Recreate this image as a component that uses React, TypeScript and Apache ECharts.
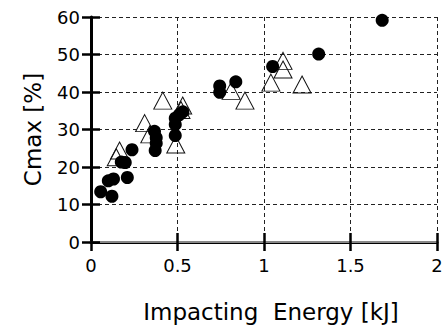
import React, { useEffect, useRef } from "react";
import * as echarts from "echarts";

const xTicks = [0, 0.5, 1, 1.5, 2];
const yTicks = [0, 10, 20, 30, 40, 50, 60];

const circleEnergy = [0.056, 0.121, 0.1, 0.13, 0.21, 0.175, 0.198, 0.237, 0.367, 0.377, 0.377, 0.371, 0.487, 0.487, 0.487, 0.51, 0.531, 0.744, 0.744, 0.837, 1.05, 1.316, 1.683];
const circleCmax = [13.4, 12.2, 16.3, 16.8, 17.2, 21.3, 21.2, 24.6, 29.5, 27.8, 26.3, 24.4, 33, 31.3, 28.4, 33.9, 34.7, 41.6, 39.9, 42.7, 46.8, 50.1, 59.1];

const triEnergy = [0.146, 0.165, 0.31, 0.34, 0.415, 0.49, 0.53, 0.52, 0.81, 0.89, 1.04, 1.11, 1.11, 1.22];
const triCmax = [22.6, 24.4, 31.7, 28.7, 37.7, 26, 36.4, 35.2, 40.3, 37.7, 42.5, 48.3, 46, 42];

const FONT = "DejaVu Sans";

export default function App() {
  const ref = useRef<HTMLDivElement>(null);
  useEffect(() => {
    document.body.style.margin = "0";
    if (!ref.current) return;
    const chart = echarts.init(ref.current, null, { renderer: "svg" });
    const xMin = xTicks[0], xMax = xTicks[xTicks.length - 1];
    const yMin = yTicks[0], yMax = yTicks[yTicks.length - 1];
    const xInt = xTicks[1] - xTicks[0];
    const yInt = yTicks[1] - yTicks[0];
    const dash = { type: [4, 3] as any, color: "#222", width: 1 };
    const tickStyle = { color: "#000", width: 2.5 };
    chart.setOption({
      animation: false,
      backgroundColor: "#fff",
      grid: { left: 91, right: 11, top: 17, bottom: 79, containLabel: false },
      xAxis: [
        {
          type: "value", min: xMin, max: xMax, interval: xInt, position: "bottom",
          name: "Impacting  Energy [kJ]", nameLocation: "middle", nameGap: 58,
          nameTextStyle: { fontFamily: FONT, fontSize: 23, color: "#000", padding: [0, 0, 0, 14] },
          axisLine: { show: true, lineStyle: { color: "#000", width: 3 } },
          axisTick: { show: true, length: 9, lineStyle: tickStyle },
          axisLabel: { fontFamily: FONT, fontSize: 18, color: "#000", margin: 14 },
          splitLine: { show: true, lineStyle: dash },
        },
        {
          type: "value", min: xMin, max: xMax, interval: xInt, position: "bottom",
          axisLine: { show: false },
          axisTick: { show: true, inside: true, length: 9, lineStyle: tickStyle },
          axisLabel: { show: false },
          splitLine: { show: false },
        },
        {
          type: "value", min: xMin, max: xMax, interval: xInt, position: "top",
          axisLine: { show: true, lineStyle: { color: "#888", width: 2 } },
          axisTick: { show: false },
          axisLabel: { show: false },
          splitLine: { show: false },
        },
      ],
      yAxis: [
        {
          type: "value", min: yMin, max: yMax, interval: yInt, position: "left",
          name: "Cmax [%]", nameLocation: "middle", nameGap: 47,
          nameTextStyle: { fontFamily: FONT, fontSize: 23, color: "#000" },
          axisLine: { show: true, lineStyle: { color: "#000", width: 3 } },
          axisTick: { show: true, length: 9, lineStyle: tickStyle },
          axisLabel: { fontFamily: FONT, fontSize: 18, color: "#000", margin: 11 },
          splitLine: { show: true, lineStyle: dash },
        },
        {
          type: "value", min: yMin, max: yMax, interval: yInt, position: "left",
          axisLine: { show: false },
          axisTick: { show: true, inside: true, length: 9, lineStyle: tickStyle },
          axisLabel: { show: false },
          splitLine: { show: false },
        },
        {
          type: "value", min: yMin, max: yMax, interval: yInt, position: "right",
          axisLine: { show: true, lineStyle: { color: "#000", width: 1.5 } },
          axisTick: { show: false },
          axisLabel: { show: false },
          splitLine: { show: false },
        },
      ],
      series: [
        {
          type: "scatter",
          name: "triangles",
          symbol: "triangle",
          symbolSize: [18, 17],
          itemStyle: { color: "rgba(0,0,0,0)", borderColor: "#111", borderWidth: 1, opacity: 1 },
          data: triEnergy.map((e, i) => [e, triCmax[i]]),
          z: 5,
        },
        {
          type: "scatter",
          name: "circles",
          symbol: "circle",
          symbolSize: 13,
          itemStyle: { color: "#000", opacity: 1 },
          data: circleEnergy.map((e, i) => [e, circleCmax[i]]),
          z: 6,
        },
      ],
    });
    return () => chart.dispose();
  }, []);
  return <div ref={ref} style={{ width: 448, height: 328 }} />;
}
